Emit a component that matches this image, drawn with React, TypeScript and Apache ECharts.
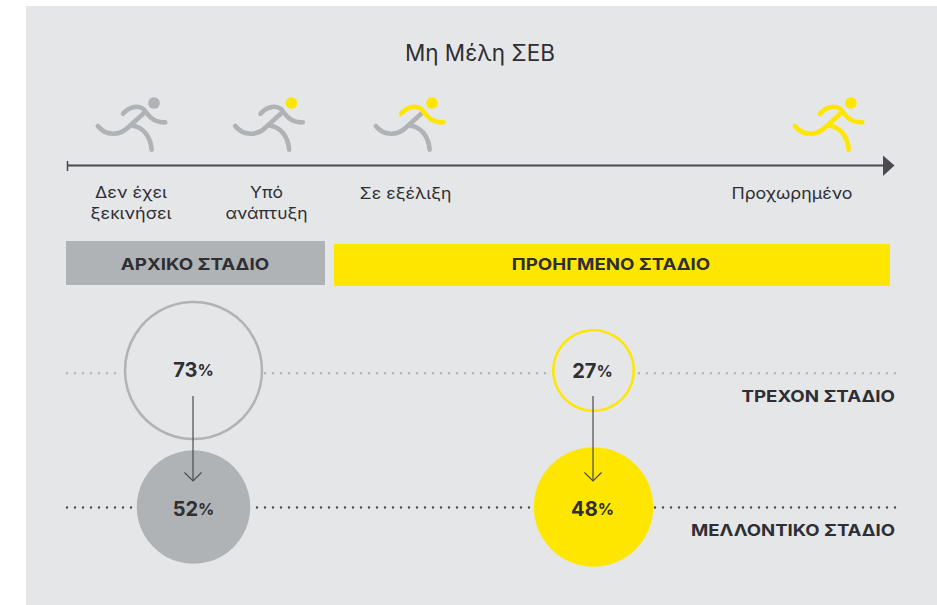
import React, { useEffect, useRef } from "react";
import * as echarts from "echarts";

const TITLE = "Μη Μέλη ΣΕΒ";
const STEP_LABELS = ["Δεν έχει\nξεκινήσει", "Υπό\nανάπτυξη", "Σε εξέλιξη", "Προχωρημένο"];
const STAGES = ["ΑΡΧΙΚΟ ΣΤΑΔΙΟ", "ΠΡΟΗΓΜΕΝΟ ΣΤΑΔΙΟ"];
const ROWS = ["ΜΕΛΛΟΝΤΙΚΟ ΣΤΑΔΙΟ", "ΤΡΕΧΟΝ ΣΤΑΔΙΟ"];
const CURRENT_VALUES = [73, 27];
const FUTURE_VALUES = [52, 48];

const BG = "#E5E6E8";
const GREY = "#B0B3B5";
const YELLOW = "#FFE600";
const DARK = "#2E2E33";
const LINE = "#4A4A50";
const FONT = "Inter, 'Noto Sans', sans-serif";

const ARM = "M63 28.8C69 21.5 78 20 83.5 24C88 30 93 38 105.3 37.3";
const TORSO = "M83.5 28.5L68 42.5C60 50.5 46 51.5 37.8 41";
const LEG = "M71.5 40.5C83 41.5 90.5 51.5 91.7 64.7";
echarts.graphic.registerShape("runnerArm", echarts.graphic.extendPath(ARM, {}) as any);
echarts.graphic.registerShape("runnerTorso", echarts.graphic.extendPath(TORSO, {}) as any);
echarts.graphic.registerShape("runnerLeg", echarts.graphic.extendPath(LEG, {}) as any);

function runner(dx: number, head: string, arm: string, body: string) {
  const stroke = (type: string, color: string) => ({
    type,
    x: 60 + dx,
    y: 85,
    style: { fill: "none", stroke: color, lineWidth: 4.6, lineCap: "round", lineJoin: "round" },
  });
  return [
    stroke("runnerTorso", body),
    stroke("runnerLeg", body),
    stroke("runnerArm", arm),
    { type: "circle", shape: { cx: 154 + dx, cy: 103, r: 5.8 }, style: { fill: head } },
  ];
}

function dots(x1: number, x2: number, y: number, color: string) {
  return {
    type: "line",
    shape: { x1, y1: y, x2, y2: y },
    style: { stroke: color, lineWidth: 2.4, lineCap: "round", lineDash: [0, 8] },
  };
}

function text(x: number, y: number, t: string, size: number, weight: number, align: string, scaleX = 1, lineHeight?: number) {
  return {
    type: "text",
    x,
    y,
    z: 5,
    scaleX,
    style: { text: t, fontFamily: FONT, fontSize: size, fontWeight: weight, fill: DARK, align, verticalAlign: "middle", ...(lineHeight ? { lineHeight } : {}) },
  };
}

export default function App() {
  const ref = useRef<HTMLDivElement>(null);
  useEffect(() => {
    const chart = echarts.init(ref.current!, null, { renderer: "svg" });
    const label = {
      show: true,
      position: "inside",
      formatter: (p: any) => `{n|${p.value[2]}}{p|%}`,
      rich: {
        n: { color: DARK, fontFamily: FONT, fontSize: 20, fontWeight: 700 },
        p: { color: DARK, fontFamily: FONT, fontSize: 16, fontWeight: 700 },
      },
    };
    chart.setOption({
      animation: false,
      backgroundColor: "#FFFFFF",
      grid: { left: 193.5, top: 370.5, width: 400, height: 136.5 },
      xAxis: { type: "category", data: STAGES, show: false, boundaryGap: false },
      yAxis: { type: "category", data: ROWS, show: false, boundaryGap: false },
      series: [
        {
          type: "scatter",
          z: 3,
          clip: false,
          label,
          itemStyle: { opacity: 1 },
          data: [
            { value: [0, 1, CURRENT_VALUES[0]], symbolSize: 137, label: { offset: [0, -1] }, itemStyle: { color: BG, borderColor: GREY, borderWidth: 2.5, opacity: 1 } },
            { value: [1, 1, CURRENT_VALUES[1]], symbolSize: 80.5, label: { offset: [-1, 0] }, itemStyle: { color: BG, borderColor: YELLOW, borderWidth: 2.5, opacity: 1 } },
            { value: [0, 0, FUTURE_VALUES[0]], symbolSize: 113.5, label: { offset: [0, 1.5] }, itemStyle: { color: GREY, opacity: 1 } },
            { value: [1, 0, FUTURE_VALUES[1]], symbolSize: 119.5, label: { offset: [-1, 1.5] }, itemStyle: { color: YELLOW, opacity: 1 } },
          ],
        },
      ],
      graphic: [
        { type: "rect", z: -10, silent: true, shape: { x: 26, y: 6, width: 911, height: 599 }, style: { fill: BG } },
        text(480, 52, TITLE, 22.5, 400, "center"),
        ...runner(0, GREY, GREY, GREY),
        ...runner(137.5, YELLOW, GREY, GREY),
        ...runner(278, YELLOW, YELLOW, GREY),
        ...runner(697, YELLOW, YELLOW, YELLOW),
        { type: "line", shape: { x1: 67, y1: 165.5, x2: 885, y2: 165.5 }, style: { stroke: LINE, lineWidth: 2 } },
        { type: "line", shape: { x1: 67.5, y1: 161, x2: 67.5, y2: 171 }, style: { stroke: LINE, lineWidth: 1.5 } },
        { type: "polygon", shape: { points: [[883, 155.5], [894.5, 165.5], [883, 176]] }, style: { fill: LINE } },
        text(131, 202.5, STEP_LABELS[0], 16.5, 400, "center", 1.09, 21),
        text(266.5, 202.5, STEP_LABELS[1], 16.5, 400, "center", 1.06, 21),
        text(405.5, 193, STEP_LABELS[2], 16.5, 400, "center", 1.07),
        text(792, 193, STEP_LABELS[3], 16.5, 400, "center", 1.08),
        { type: "rect", shape: { x: 66, y: 241, width: 259, height: 44 }, style: { fill: GREY } },
        { type: "rect", shape: { x: 334, y: 244, width: 556, height: 42 }, style: { fill: YELLOW } },
        text(195, 264.5, STAGES[0], 16, 700, "center", 1.17),
        text(611, 264.5, STAGES[1], 16, 700, "center", 1.167),
        dots(67, 116, 373.3, GREY),
        dots(265, 549, 373.3, GREY),
        dots(639, 896, 373.3, GREY),
        dots(67, 135, 507.5, LINE),
        dots(257, 533, 507.5, LINE),
        dots(655, 896, 507.5, LINE),
        text(895, 396.5, ROWS[1], 16, 700, "right", 1.17),
        text(895, 529.5, ROWS[0], 16, 700, "right", 1.16),
        { type: "line", z: 4, shape: { x1: 193, y1: 396, x2: 193, y2: 481 }, style: { stroke: LINE, lineWidth: 1.2 } },
        { type: "polyline", z: 4, shape: { points: [[184.5, 472.5], [193, 481], [201.5, 472.5]] }, style: { fill: "none", stroke: LINE, lineWidth: 1.2 } },
        { type: "line", z: 4, shape: { x1: 593, y1: 396, x2: 593, y2: 481 }, style: { stroke: LINE, lineWidth: 1.2 } },
        { type: "polyline", z: 4, shape: { points: [[584.5, 472.5], [593, 481], [601.5, 472.5]] }, style: { fill: "none", stroke: LINE, lineWidth: 1.2 } },
      ],
    });
    return () => chart.dispose();
  }, []);
  return <div ref={ref} style={{ position: "fixed", left: 0, top: 0, width: 937, height: 605 }} />;
}
